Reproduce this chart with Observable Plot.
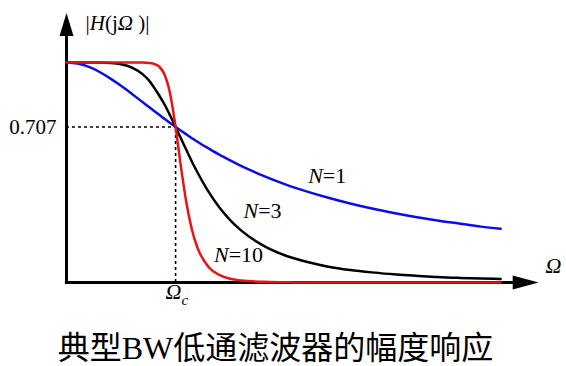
<!DOCTYPE html>
<html>
<head>
<meta charset="utf-8">
<script src="https://cdn.jsdelivr.net/npm/d3@7"></script>
<script src="https://cdn.jsdelivr.net/npm/@observablehq/plot@0.6"></script>
<style>
  html, body { margin: 0; padding: 0; background: #fff; }
  #wrap { position: relative; width: 566px; height: 366px; overflow: hidden; }
  #title { position: absolute; left: 0; top: 328px; width: 551px; text-align: center;
           font-family: "Liberation Serif", "Noto Sans CJK SC", serif; font-size: 32px; line-height: 40px; color: #000; }
</style>
</head>
<body>
<div id="wrap">
  <div id="chart"></div>
  <div id="title">典型BW低通滤波器的幅度响应</div>
</div>
<script>
// Normalized frequency Ω/Ωc (x) and magnitude |H(jΩ)|
const omega = [0, 0.1, 0.2, 0.3, 0.4, 0.5, 0.6, 0.7, 0.75, 0.8, 0.85, 0.9, 0.95, 1.0, 1.05, 1.1, 1.15, 1.2, 1.3, 1.4, 1.5, 1.6, 1.8, 2.0, 2.2, 2.4, 2.6, 2.8, 3.0, 3.2, 3.4, 3.6, 3.8, 3.98];
const magN1 = [1, 0.995, 0.981, 0.958, 0.928, 0.894, 0.857, 0.819, 0.800, 0.781, 0.762, 0.743, 0.725, 0.707, 0.690, 0.673, 0.656, 0.640, 0.610, 0.581, 0.555, 0.530, 0.486, 0.447, 0.414, 0.385, 0.359, 0.336, 0.316, 0.298, 0.282, 0.268, 0.254, 0.244];
const magN3 = [1, 1, 1, 1, 0.998, 0.992, 0.977, 0.946, 0.922, 0.888, 0.850, 0.808, 0.759, 0.707, 0.654, 0.601, 0.549, 0.501, 0.414, 0.342, 0.284, 0.237, 0.169, 0.124, 0.094, 0.072, 0.057, 0.046, 0.037, 0.031, 0.025, 0.021, 0.018, 0.016];
const magN10 = [1, 1, 1, 1, 1, 1, 1, 1, 0.998, 0.994, 0.981, 0.944, 0.858, 0.707, 0.523, 0.360, 0.240, 0.159, 0.072, 0.035, 0.017, 0.009, 0.003, 0.001, 0, 0, 0, 0, 0, 0, 0, 0, 0, 0];
const seriesNames = ["N=1", "N=3", "N=10"];
const seriesColors = ["#0c0ce6", "#000000", "#e61414"];
const cutoffLevel = 0.707;
const cutoffOmega = 1;

const table = [];
[magN1, magN3, magN10].forEach((vals, i) => {
  vals.forEach((v, j) => table.push({omega: omega[j], mag: v, series: seriesNames[i]}));
});

const serif = "Liberation Serif, Times New Roman, serif";

const labels = [
  {x: 2.39, y: 0.486, t: "N=1"},
  {x: 1.797, y: 0.327, t: "N=3"},
  {x: 1.577, y: 0.123, t: "N=10"}
];

const plot = Plot.plot({
  width: 566,
  height: 310,
  marginLeft: 66,
  marginRight: 20,
  marginTop: 7,
  marginBottom: 28,
  x: {domain: [0, 4.4], axis: null},
  y: {domain: [0, 1.25], axis: null},
  color: {domain: seriesNames, range: seriesColors},
  style: {background: "#fff", overflow: "visible"},
  marks: [
    Plot.ruleY([cutoffLevel], {x1: 0, x2: cutoffOmega, stroke: "#000", strokeWidth: 1.6, strokeDasharray: "3,3"}),
    Plot.ruleX([cutoffOmega], {y1: 0, y2: cutoffLevel, stroke: "#000", strokeWidth: 1.6, strokeDasharray: "3,3"}),
    Plot.ruleX([0], {y1: -0.006, y2: 1.13, stroke: "#000", strokeWidth: 3}),
    Plot.ruleY([0], {x1: -0.01, x2: 4.1, stroke: "#000", strokeWidth: 3}),
    Plot.vector([0], {x: 0, y: 1.12, length: 23, r: 7, rotate: 0, shape: "spike", anchor: "start", fill: "#000", stroke: "none"}),
    Plot.vector([0], {x: 4.09, y: 0, length: 26, r: 7, rotate: 90, shape: "spike", anchor: "start", fill: "#000", stroke: "none"}),
    Plot.line(table, {x: "omega", y: "mag", z: "series", stroke: "series", strokeWidth: 2.5, curve: "monotone-x"}),
    Plot.text(labels, {x: "x", y: "y", text: "t", fontFamily: serif, fontSize: 22, fill: "#000"}),
    Plot.text(["0.707"], {x: 0, y: cutoffLevel, dx: -10, textAnchor: "end", fontFamily: serif, fontSize: 21, fill: "#000"}),
    Plot.text(["|H(jΩ )|"], {x: 0.4675, y: 1.177, fontFamily: serif, fontSize: 21, fill: "#000"}),
    Plot.text(["Ωc"], {x: 0.9075, y: -0.045, textAnchor: "start", fontFamily: serif, fontSize: 22, fill: "#000"}),
    Plot.text(["Ω"], {x: 4.39, y: 0.075, textAnchor: "start", fontFamily: serif, fontSize: 22, fill: "#000"})
  ]
});

// Mixed italic / upright styling via tspans
const styling = {
  "N=1": [["N", true], ["=1", false]],
  "N=3": [["N", true], ["=3", false]],
  "N=10": [["N", true], ["=10", false]],
  "|H(jΩ )|": [["|", false], ["H", true], ["(j", false], ["Ω", true], [" )|", false]],
  "Ωc": [["Ω", true], ["c", true, "sub"]],
  "Ω": [["Ω", true]]
};
d3.select(plot).selectAll("text").each(function() {
  const el = d3.select(this);
  const content = this.textContent;
  const parts = styling[content];
  if (!parts) return;
  el.text(null);
  parts.forEach(([s, it, sub]) => {
    const ts = el.append("tspan").text(s).attr("font-style", it ? "italic" : "normal");
    if (sub) ts.attr("font-size", 15).attr("dy", "0.35em");
  });
});

document.getElementById("chart").appendChild(plot);
</script>
</body>
</html>
